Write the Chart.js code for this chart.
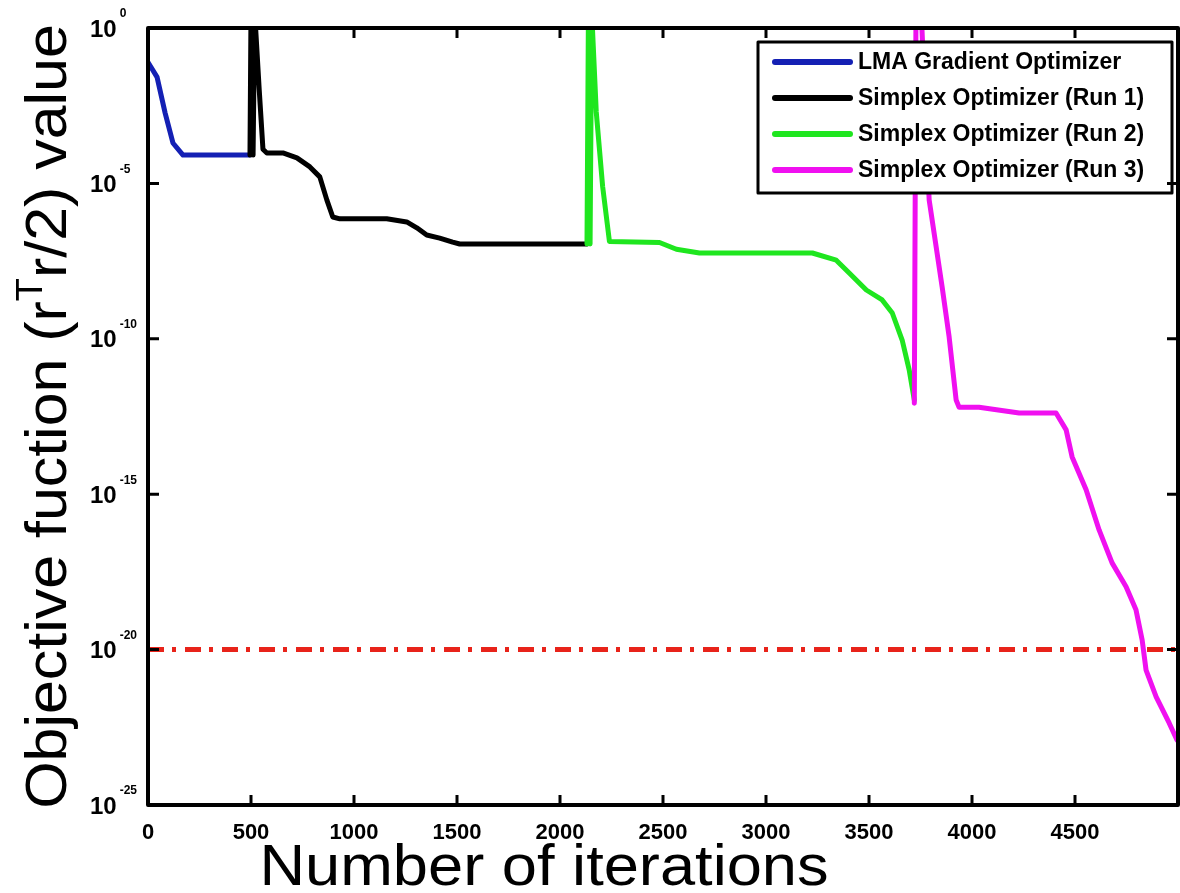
<!DOCTYPE html>
<html><head><meta charset="utf-8">
<script src="https://cdn.jsdelivr.net/npm/chart.js@4.4.1/dist/chart.umd.min.js"></script>
<style>html,body{margin:0;padding:0;background:#fff;} #wrap{width:1180px;height:893px;}</style>
</head><body><div id="wrap"><canvas id="c" width="1180" height="893"></canvas></div>
<script>
// ---- tick labels ----
const xTickValues = [0, 500, 1000, 1500, 2000, 2500, 3000, 3500, 4000, 4500];
const xTickLabels = ['0', '500', '1000', '1500', '2000', '2500', '3000', '3500', '4000', '4500'];
const yTickExponents = [0, -5, -10, -15, -20, -25];
const yTickBase = '10';

// ---- titles / legend ----
const xTitle = 'Number of iterations';
const yTitleParts = ['Objective fuction (r', 'T', 'r/2) value'];
const seriesNames = ['LMA Gradient Optimizer', 'Simplex Optimizer (Run 1)', 'Simplex Optimizer (Run 2)', 'Simplex Optimizer (Run 3)'];
const seriesColors = ['#1420b4', '#000000', '#1fe61f', '#f010f0'];
const thresholdColor = '#e8231a';

// ---- series (iteration, log10 of objective) ----
const lmaIter = [0, 44, 83, 121, 170, 495];
const lmaExp  = [-1.1, -1.58, -2.73, -3.70, -4.09, -4.09];

const run1Iter = [495, 500, 510, 518, 540, 558, 577, 655, 723, 786, 834, 868, 897, 931, 1159, 1256, 1305, 1353, 1416, 1479, 1513, 2131];
const run1Exp  = [-4.09, 0.5, -4.09, 0.5, -2.0, -3.9, -4.02, -4.02, -4.18, -4.47, -4.79, -5.53, -6.08, -6.14, -6.14, -6.24, -6.43, -6.66, -6.76, -6.89, -6.95, -6.95];

const run2Iter = [2131, 2138, 2146, 2154, 2176, 2207, 2240, 2483, 2565, 2677, 3225, 3341, 3404, 3487, 3564, 3613, 3661, 3695, 3720];
const run2Exp  = [-6.95, 0.5, -6.95, 0.5, -2.7, -5.1, -6.87, -6.90, -7.12, -7.24, -7.24, -7.47, -7.88, -8.43, -8.75, -9.17, -10.04, -11.0, -11.97];

const run3Iter = [3720, 3728, 3740, 3755, 3792, 3855, 3889, 3923, 3937, 4034, 4229, 4408, 4457, 4486, 4554, 4617, 4680, 4748, 4796, 4826, 4845, 4894, 4957, 4995];
const run3Exp  = [-12.07, 0.5, 0.5, 0.3, -5.53, -8.33, -9.94, -11.97, -12.2, -12.2, -12.39, -12.39, -12.93, -13.8, -14.86, -16.15, -17.21, -17.98, -18.72, -19.69, -20.66, -21.52, -22.36, -22.91];

const thresholdIter = [0, 5000];
const thresholdExp  = [-20, -20];

function pts(iters, exps) { return iters.map((x, i) => ({ x: x, y: Math.pow(10, exps[i]) })); }

function lineDs(label, data, color, order) {
  return { label, data, borderColor: color, backgroundColor: color, borderWidth: 5, pointRadius: 0,
    tension: 0, fill: false, order, clip: 0, borderJoinStyle: 'round', borderCapStyle: 'round' };
}

const datasets = [
  lineDs(seriesNames[0], pts(lmaIter, lmaExp), seriesColors[0], 3),
  lineDs(seriesNames[1], pts(run1Iter, run1Exp), seriesColors[1], 2),
  lineDs(seriesNames[2], pts(run2Iter, run2Exp), seriesColors[2], 1),
  lineDs(seriesNames[3], pts(run3Iter, run3Exp), seriesColors[3], 0),
  Object.assign(lineDs('threshold', pts(thresholdIter, thresholdExp), thresholdColor, 4),
    { borderDash: [16, 8, 4, 9], borderCapStyle: 'butt', borderWidth: 5 })
];

const bgPlugin = {
  id: 'bg',
  beforeDraw(chart) {
    const ctx = chart.ctx; ctx.save(); ctx.fillStyle = '#fff';
    ctx.fillRect(0, 0, chart.width, chart.height); ctx.restore();
  }
};

const framePlugin = {
  id: 'frame',
  afterDatasetsDraw(chart) {
    const ctx = chart.ctx, a = chart.chartArea, xs = chart.scales.x, ys = chart.scales.y;
    ctx.save();
    // legend
    const lx = 758, ly = 42, lw = 414, lh = 151;
    ctx.fillStyle = '#fff'; ctx.fillRect(lx, ly, lw, lh);
    ctx.strokeStyle = '#000'; ctx.lineWidth = 3; ctx.lineJoin = 'round';
    ctx.strokeRect(lx, ly, lw, lh);
    ctx.font = 'bold 23px "Liberation Sans", Arial, sans-serif';
    ctx.textBaseline = 'middle'; ctx.textAlign = 'left';
    seriesNames.forEach((n, i) => {
      const y = 62 + i * 36;
      ctx.strokeStyle = seriesColors[i]; ctx.lineWidth = 6; ctx.lineCap = 'round';
      ctx.beginPath(); ctx.moveTo(775, y); ctx.lineTo(850, y); ctx.stroke();
      ctx.fillStyle = '#000'; ctx.fillText(n, 858, y + 1);
    });
    // box
    ctx.strokeStyle = '#000'; ctx.lineWidth = 4; ctx.lineCap = 'butt';
    ctx.strokeRect(a.left, a.top, a.right - a.left, a.bottom - a.top);
    // inward ticks
    ctx.lineWidth = 3;
    xs.ticks.forEach((t, i) => {
      const px = xs.getPixelForTick(i);
      ctx.beginPath(); ctx.moveTo(px, a.bottom); ctx.lineTo(px, a.bottom - 10);
      ctx.moveTo(px, a.top); ctx.lineTo(px, a.top + 10); ctx.stroke();
    });
    ys.ticks.forEach((t, i) => {
      const py = ys.getPixelForValue(t.value);
      ctx.beginPath(); ctx.moveTo(a.left, py); ctx.lineTo(a.left + 11, py);
      ctx.moveTo(a.right, py); ctx.lineTo(a.right - 11, py); ctx.stroke();
    });
    // y tick labels with superscript
    ctx.fillStyle = '#000'; ctx.textAlign = 'left'; ctx.textBaseline = 'middle';
    ys.ticks.forEach((t, i) => {
      const py = ys.getPixelForValue(t.value);
      ctx.font = 'bold 24px "Liberation Sans", Arial, sans-serif';
      ctx.fillText(yTickBase, 90, py + 2);
      const w = ctx.measureText(yTickBase).width;
      ctx.font = 'bold 12px "Liberation Sans", Arial, sans-serif';
      ctx.fillText(String(yTickExponents[i]), 90 + w + 3, py - 14);
    });
    // x axis title
    ctx.font = '58px "Liberation Sans", Arial, sans-serif';
    ctx.textAlign = 'center'; ctx.textBaseline = 'alphabetic';
    ctx.save(); ctx.translate(544, 885); ctx.scale(1.09, 1);
    ctx.fillText(xTitle, 0, 0); ctx.restore();
    // y title rotated
    ctx.translate(66, (a.top + a.bottom) / 2); ctx.rotate(-Math.PI / 2); ctx.scale(1.05, 1);
    ctx.textAlign = 'left';
    const big = '58px "Liberation Sans", Arial, sans-serif';
    const small = '36px "Liberation Sans", Arial, sans-serif';
    ctx.font = big; const w0 = ctx.measureText(yTitleParts[0]).width; const w2 = ctx.measureText(yTitleParts[2]).width;
    ctx.font = small; const w1 = ctx.measureText(yTitleParts[1]).width;
    let x0 = -(w0 + w1 + w2) / 2;
    ctx.font = big; ctx.fillText(yTitleParts[0], x0, 0); x0 += w0;
    ctx.font = small; ctx.fillText(yTitleParts[1], x0, -24); x0 += w1;
    ctx.font = big; ctx.fillText(yTitleParts[2], x0, 0);
    ctx.restore();
  }
};

new Chart(document.getElementById('c'), {
  type: 'line',
  data: { datasets },
  options: {
    responsive: false, animation: false, devicePixelRatio: 1,
    layout: { padding: { top: 28, right: 2, left: 0, bottom: 0 } },
    plugins: { legend: { display: false }, tooltip: { enabled: false } },
    scales: {
      x: {
        type: 'linear', min: 0, max: 5000,
        grid: { display: false, drawTicks: false }, border: { display: false },
        ticks: { autoSkip: false, maxRotation: 0, color: '#000', padding: 15,
          font: { family: '"Liberation Sans", Arial, sans-serif', size: 22, weight: 'bold' },
          callback: (v, i) => xTickLabels[i] },
        afterBuildTicks: s => { s.ticks = xTickValues.map(v => ({ value: v })); },
        afterFit: s => { s.height = 88; }
      },
      y: {
        type: 'logarithmic', min: 1e-25, max: 1,
        grid: { display: false, drawTicks: false }, border: { display: false },
        ticks: { display: false },
        afterBuildTicks: s => { s.ticks = yTickExponents.map(e => ({ value: Math.pow(10, e) })); },
        afterFit: s => { s.width = 148; }
      }
    }
  },
  plugins: [bgPlugin, framePlugin]
});
</script></body></html>
